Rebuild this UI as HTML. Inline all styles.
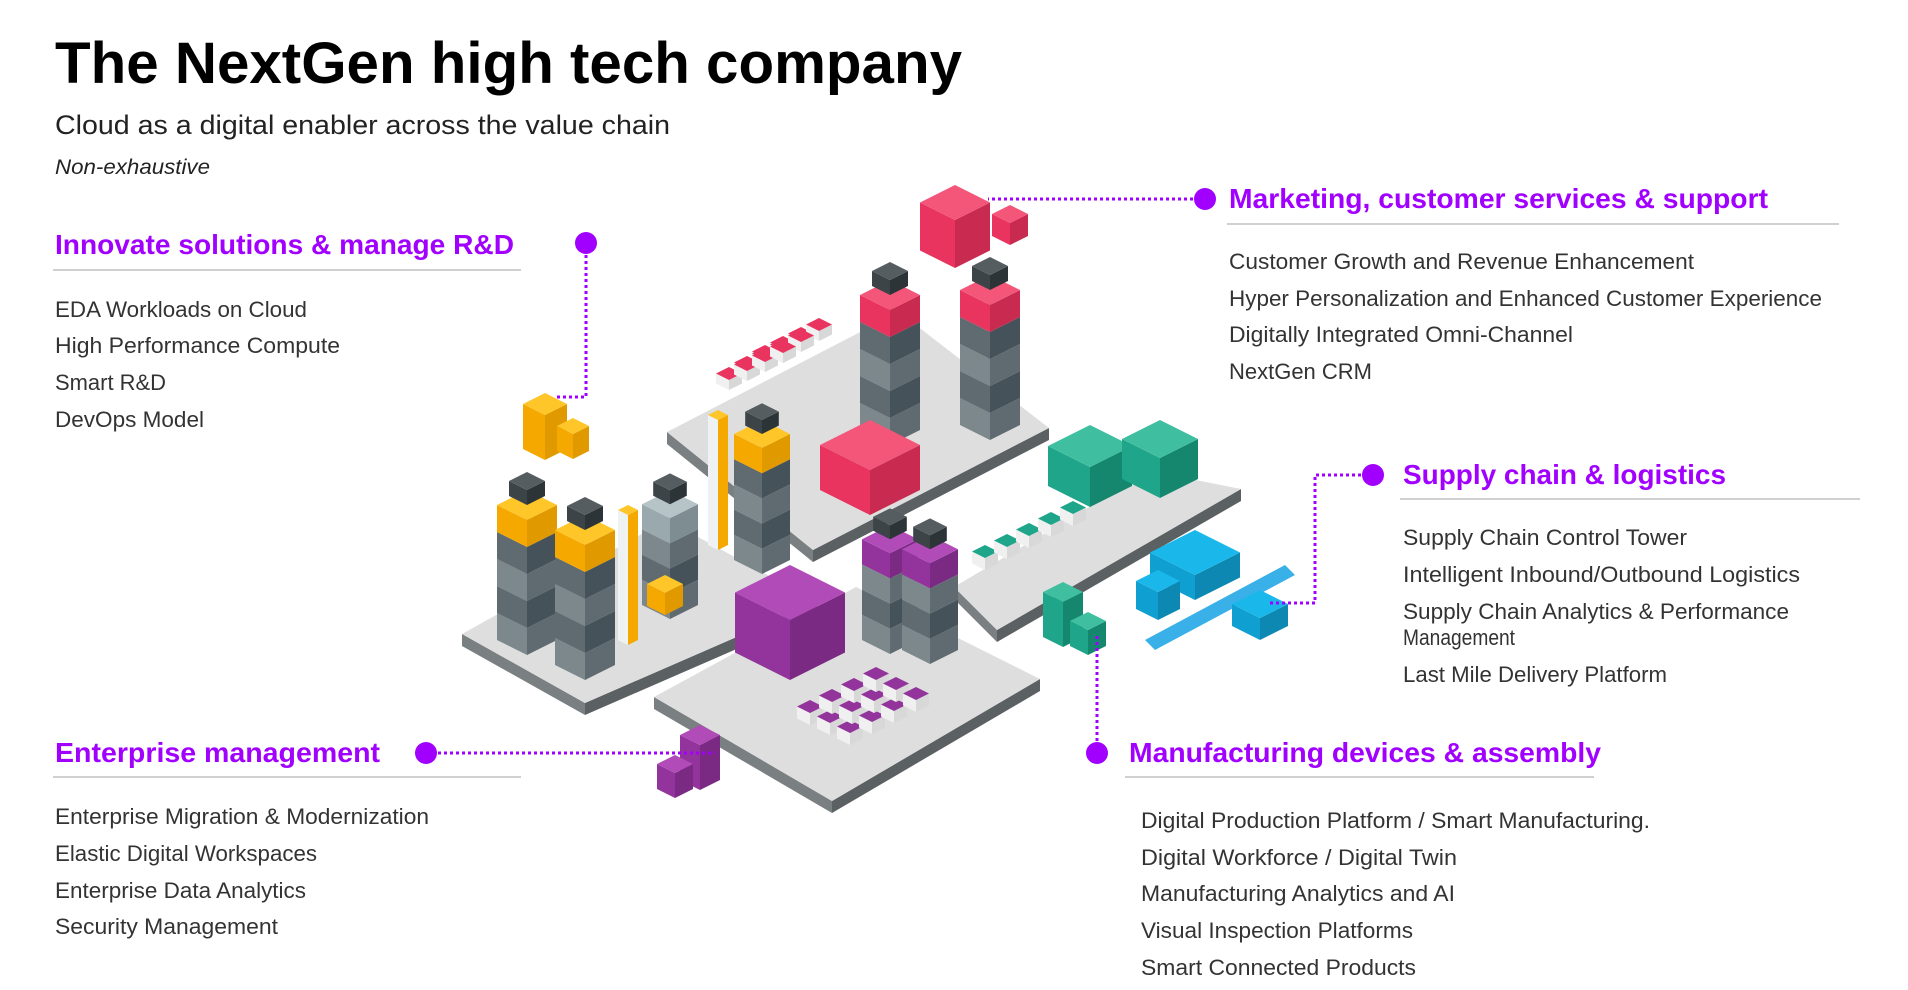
<!DOCTYPE html>
<html><head><meta charset="utf-8"><style>
html,body{margin:0;padding:0;background:#fff;}
svg{display:block;}
.t{font-family:"Liberation Sans",sans-serif;}
.h{font-weight:bold;fill:#a100ff;font-size:28px;}
.i{fill:#333;font-size:22px;}
</style></head><body>
<svg width="1908" height="990" xmlns="http://www.w3.org/2000/svg">
<text class="t" x="55" y="83" font-size="58" font-weight="bold" fill="#000" textLength="907" lengthAdjust="spacingAndGlyphs">The NextGen high tech company</text>
<text class="t" x="55" y="134" font-size="27" fill="#222" textLength="615" lengthAdjust="spacingAndGlyphs">Cloud as a digital enabler across the value chain</text>
<text class="t" x="55" y="174" font-size="21" font-style="italic" fill="#222" textLength="155" lengthAdjust="spacingAndGlyphs">Non-exhaustive</text>

<g id="illus"></g>

<g stroke="#a100ff" stroke-width="3" stroke-dasharray="3 3" fill="none">
<path d="M586 243 V397 H556"/>
<path d="M1205 199 H988"/>
<path d="M1373 475 H1315 V603 H1268"/>
<path d="M426 753 H715"/>
<path d="M1097 753 V636"/>
</g>
<g fill="#a100ff">
<circle cx="586" cy="243" r="11"/><circle cx="1205" cy="199" r="11"/><circle cx="1373" cy="475" r="11"/><circle cx="426" cy="753" r="11"/><circle cx="1097" cy="753" r="11"/>
</g>

<g>
<text class="t h" x="55" y="254" textLength="459" lengthAdjust="spacingAndGlyphs">Innovate solutions &amp; manage R&amp;D</text>
<rect x="53" y="269" width="468" height="2" fill="#d0d0d0"/>
<text class="t i" x="55" y="317" textLength="252" lengthAdjust="spacingAndGlyphs">EDA Workloads on Cloud</text>
<text class="t i" x="55" y="353" textLength="285" lengthAdjust="spacingAndGlyphs">High Performance Compute</text>
<text class="t i" x="55" y="390" textLength="111" lengthAdjust="spacingAndGlyphs">Smart R&amp;D</text>
<text class="t i" x="55" y="427" textLength="149" lengthAdjust="spacingAndGlyphs">DevOps Model</text>
</g>

<g>
<text class="t h" x="1229" y="208" textLength="539" lengthAdjust="spacingAndGlyphs">Marketing, customer services &amp; support</text>
<rect x="1227" y="223" width="612" height="2" fill="#d0d0d0"/>
<text class="t i" x="1229" y="269" textLength="465" lengthAdjust="spacingAndGlyphs">Customer Growth and Revenue Enhancement</text>
<text class="t i" x="1229" y="306" textLength="593" lengthAdjust="spacingAndGlyphs">Hyper Personalization and Enhanced Customer Experience</text>
<text class="t i" x="1229" y="342" textLength="344" lengthAdjust="spacingAndGlyphs">Digitally Integrated Omni-Channel</text>
<text class="t i" x="1229" y="379" textLength="143" lengthAdjust="spacingAndGlyphs">NextGen CRM</text>
</g>

<g>
<text class="t h" x="1403" y="484" textLength="323" lengthAdjust="spacingAndGlyphs">Supply chain &amp; logistics</text>
<rect x="1400" y="498" width="460" height="2" fill="#d0d0d0"/>
<text class="t i" x="1403" y="545" textLength="284" lengthAdjust="spacingAndGlyphs">Supply Chain Control Tower</text>
<text class="t i" x="1403" y="582" textLength="397" lengthAdjust="spacingAndGlyphs">Intelligent Inbound/Outbound Logistics</text>
<text class="t i" x="1403" y="619" textLength="386" lengthAdjust="spacingAndGlyphs">Supply Chain Analytics &amp; Performance</text>
<text class="t i" x="1403" y="645" textLength="112" lengthAdjust="spacingAndGlyphs">Management</text>
<text class="t i" x="1403" y="682" textLength="264" lengthAdjust="spacingAndGlyphs">Last Mile Delivery Platform</text>
</g>

<g>
<text class="t h" x="55" y="762" textLength="325" lengthAdjust="spacingAndGlyphs">Enterprise management</text>
<rect x="53" y="776" width="468" height="2" fill="#d0d0d0"/>
<text class="t i" x="55" y="824" textLength="374" lengthAdjust="spacingAndGlyphs">Enterprise Migration &amp; Modernization</text>
<text class="t i" x="55" y="861" textLength="262" lengthAdjust="spacingAndGlyphs">Elastic Digital Workspaces</text>
<text class="t i" x="55" y="898" textLength="251" lengthAdjust="spacingAndGlyphs">Enterprise Data Analytics</text>
<text class="t i" x="55" y="934" textLength="223" lengthAdjust="spacingAndGlyphs">Security Management</text>
</g>

<g>
<text class="t h" x="1129" y="762" textLength="472" lengthAdjust="spacingAndGlyphs">Manufacturing devices &amp; assembly</text>
<rect x="1125" y="776" width="469" height="2" fill="#d0d0d0"/>
<text class="t i" x="1141" y="828" textLength="509" lengthAdjust="spacingAndGlyphs">Digital Production Platform / Smart Manufacturing.</text>
<text class="t i" x="1141" y="865" textLength="316" lengthAdjust="spacingAndGlyphs">Digital  Workforce / Digital Twin</text>
<text class="t i" x="1141" y="901" textLength="314" lengthAdjust="spacingAndGlyphs">Manufacturing Analytics and AI</text>
<text class="t i" x="1141" y="938" textLength="272" lengthAdjust="spacingAndGlyphs">Visual Inspection Platforms</text>
<text class="t i" x="1141" y="975" textLength="275" lengthAdjust="spacingAndGlyphs">Smart Connected Products</text>
</g>
</svg>
<script>
var NS='http://www.w3.org/2000/svg';
var g=document.getElementById('illus');
function poly(pts,fill,name){var p=document.createElementNS(NS,'polygon');p.setAttribute('points',pts.map(function(a){return a.join(',');}).join(' '));p.setAttribute('fill',fill);


g.appendChild(p);}
function platform(L,T,R,B,name){
 var d=12;
 poly([L,B,[B[0],B[1]+d],[L[0],L[1]+d]],'#7a7f82',name+'-side');
 poly([B,R,[R[0],R[1]+d],[B[0],B[1]+d]],'#5b6063',name+'-side');
 poly([L,T,R,B],'#dedede',name);
}
function box(cx,ty,w,h,top,left,right,name){
 poly([[cx-w,ty+w/2],[cx,ty+w],[cx,ty+w+h],[cx-w,ty+w/2+h]],left,name);
 poly([[cx,ty+w],[cx+w,ty+w/2],[cx+w,ty+w/2+h],[cx,ty+w+h]],right,name);
 poly([[cx,ty],[cx+w,ty+w/2],[cx,ty+w],[cx-w,ty+w/2]],top,name);
}
function tower(cx,by,w,n,accent,name){
 var y=by;
 for(var k=0;k<n;k++){y-=w*0.9;var c=k%2?['#8a9599','#5f6b70','#46525a']:['#a8b2b5','#7d888c','#5f6b70'];box(cx,y-w/2,w,w*0.9,c[0],c[1],c[2],name);}
 y-=w*0.9;box(cx,y-w/2,w,w*0.9,accent[0],accent[1],accent[2],name);
 y-=w*0.6;box(cx,y-w/2,w*0.6,w*0.5,'#555d60','#3c4447','#2c3437',name);
}
platform([462,634],[667,520],[817,602],[585,703],'left-platform');
platform([667,432],[899,312],[1049,428],[813,550],'top-platform');
platform([954,587],[1150,471],[1241,489],[997,630],'right-platform');
platform([654,697],[856,587],[1040,679],[832,801],'bottom-platform');
var Y=['#ffc629','#f5a800','#e09a00'],R=['#f4567a','#e8345f','#c92a4f'],P=['#b04bb8','#93339c','#7a2a82'],T=['#3fbfa0','#1ea58a','#15876f'];
for(var i=0;i<4;i++)for(var j=0;j<3;j++)box(765+i*18-j*18,345-i*9-j*9+j*20,13,10,'#e8345f','#f0f0f0','#d8d8d8','chip-red');
tower(890,430,30,4,R,'tower-red-1');tower(990,425,30,4,R,'tower-red-2');
box(870,420,50,45,'#f4567a','#e8345f','#c92a4f','red-factory');
tower(527,640,30,4,Y,'tower-yellow-1');tower(585,665,30,4,Y,'tower-yellow-2');
tower(670,605,28,3,['#b6c4c8','#9aa9ae','#7e8d92'],'tower-grey');
tower(762,560,28,4,Y,'tower-yellow-3');
box(718,410,10,130,'#ffc629','#eef2f3','#f5a800','chimney-yellow');
box(628,505,10,130,'#ffc629','#eef2f3','#f5a800','chimney-yellow-2');
box(665,575,18,22,'#ffc629','#f5a800','#e09a00','small-yellow-building');
box(1090,425,42,40,'#3fbfa0','#1ea58a','#15876f','teal-factory');
box(1160,420,38,40,'#3fbfa0','#1ea58a','#15876f','teal-factory-2');
for(var i2=0;i2<5;i2++)box(985+i2*22,545-i2*11,13,12,'#1ea58a','#f0f0f0','#d8d8d8','chip-teal');
box(790,565,55,60,'#b04bb8','#93339c','#7a2a82','purple-factory');
tower(890,640,28,3,P,'tower-purple-1');tower(930,650,28,3,P,'tower-purple-2');
for(var a=0;a<4;a++)for(var b=0;b<3;b++)box(810+a*22+b*20,700-a*11+b*10,13,12,'#93339c','#f0f0f0','#d8d8d8','chip-purple');
box(545,393,22,45,'#ffc629','#f5a800','#e09a00','rd-building');box(573,418,16,25,'#ffc629','#f5a800','#e09a00','rd-building');
box(955,185,35,48,'#f4567a','#e8345f','#c92a4f','marketing-building');box(1010,205,18,22,'#f4567a','#e8345f','#c92a4f','marketing-building');
box(700,725,20,45,'#b04bb8','#93339c','#7a2a82','enterprise-building');box(675,755,18,25,'#b04bb8','#93339c','#7a2a82','enterprise-building');
box(1063,582,20,45,'#3fbfa0','#1ea58a','#15876f','manufacturing-building');box(1088,612,18,25,'#3fbfa0','#1ea58a','#15876f','manufacturing-building');
box(1195,530,45,25,'#1ab8ea','#0f9fd0','#0c88b3','truck-tank');
box(1158,570,22,28,'#1ab8ea','#0f9fd0','#0c88b3','truck-cab');
poly([[1145,640],[1285,565],[1295,575],[1155,650]],'#3ab0e8','rail-track');
box(1260,590,28,22,'#1ab8ea','#0f9fd0','#0c88b3','train-tank');
</script>
</body></html>
